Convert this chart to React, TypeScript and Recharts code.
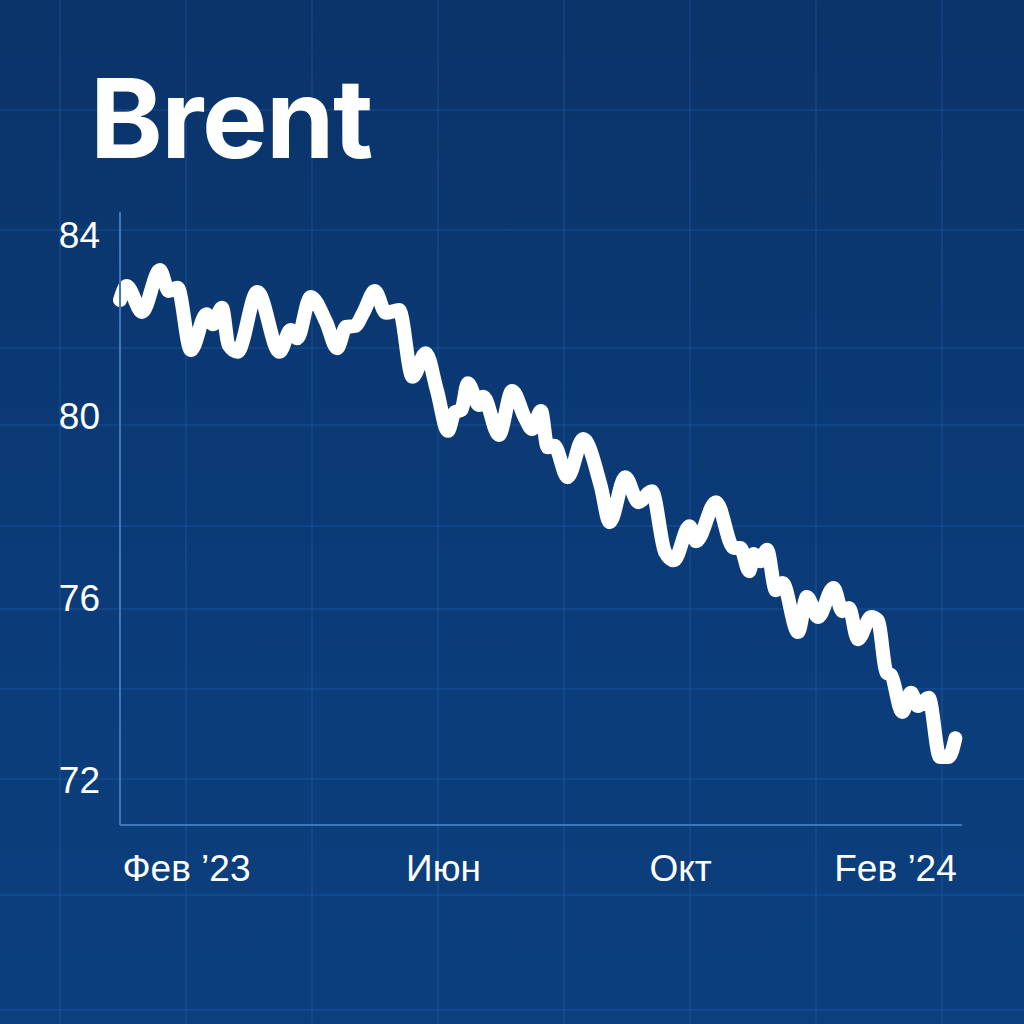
import { LineChart, Line, XAxis, YAxis } from 'recharts';

// Brent price: day offset since start and price in $
const days = [
  0, 3, 10, 18, 22, 26, 32, 39, 42, 46, 49, 53, 62, 72, 77, 80, 86, 93, 98, 102,
  106, 110, 115, 120, 126, 132, 138, 143, 148, 151, 154, 157, 162, 164, 171, 177,
  183, 186, 190, 193, 196, 202, 209, 217, 221, 228, 234, 240, 246, 250, 257, 260,
  269, 277, 280, 284, 286, 289, 292, 296, 299, 306, 310, 315, 322, 326, 329, 333,
  339, 342, 346, 348, 353, 357, 360, 365, 370, 374, 377,
];
const prices = [
  82.56, 82.87, 82.3, 83.22, 82.76, 82.83, 81.46, 82.25, 82.03, 82.39, 81.57, 81.42,
  82.74, 81.42, 81.9, 81.72, 82.63, 82.08, 81.5, 81.97, 81.99, 82.3, 82.76, 82.28,
  82.34, 80.87, 81.39, 80.58, 79.68, 80.09, 80.14, 80.73, 80.25, 80.43, 79.59, 80.56,
  79.94, 79.72, 80.12, 79.32, 79.35, 78.66, 79.5, 78.46, 77.67, 78.66, 78.11, 78.35,
  77.01, 76.83, 77.58, 77.25, 78.11, 77.1, 77.1, 76.59, 76.97, 76.81, 77.06, 76.17,
  76.33, 75.25, 76.02, 75.58, 76.22, 75.71, 75.78, 75.09, 75.58, 75.51, 74.35, 74.3,
  73.49, 73.91, 73.62, 73.8, 72.5, 72.5, 72.91,
];

const yTicks = [72, 76, 80, 84];
const xTickDays = [30, 146, 253, 350];
const xTickLabels = ['Фев ’23', 'Июн', 'Окт', 'Feв ’24'];

const data = days.map((d, i) => ({ day: d, price: prices[i] }));

// decorative background grid
const gridColor = 'rgba(38, 104, 190, 0.24)';
const rowLines = [110, 230, 348, 425, 526, 609, 689, 779, 895, 1010];
const rowGradient = rowLines
  .map(
    (y) =>
      `linear-gradient(to bottom, transparent ${y - 1}px, ${gridColor} ${y - 1}px, ${gridColor} ${y + 1}px, transparent ${y + 1}px)`
  )
  .join(', ');
const colGradient = `repeating-linear-gradient(90deg, transparent 0px, transparent 59px, ${gridColor} 59px, ${gridColor} 61px, transparent 61px, transparent 126px)`;

const axisColor = '#3f77b8';
const tickFont = { fontSize: 37, fill: '#ffffff', fontFamily: '"Liberation Sans", Arial, sans-serif' };

export default function App() {
  return (
    <div
      style={{
        position: 'absolute',
        top: 0,
        left: 0,
        width: 1024,
        height: 1024,
        overflow: 'hidden',
        backgroundColor: '#0b3a75',
        backgroundImage: `${rowGradient}, ${colGradient}, linear-gradient(180deg, #0a3369 0%, #0b3c79 60%, #0c3f7e 100%)`,
      }}
    >
      <div
        style={{
          position: 'absolute',
          left: 90,
          top: 63,
          fontFamily: 'Inter, sans-serif',
          fontWeight: 700,
          fontSize: 110,
          lineHeight: 1,
          letterSpacing: -1.5,
          color: '#ffffff',
        }}
      >
        Brent
      </div>
      <div style={{ position: 'absolute', top: 0, left: 0 }}>
        <LineChart
          width={1024}
          height={1024}
          data={data}
          margin={{ top: 212, right: 62, bottom: 139, left: 0 }}
        >
          <XAxis
            type="number"
            dataKey="day"
            domain={[0, 380]}
            ticks={xTickDays}
            tickFormatter={(v: number) => xTickLabels[xTickDays.indexOf(v)] ?? ''}
            tick={tickFont}
            tickLine={false}
            tickSize={0}
            tickMargin={30}
            axisLine={{ stroke: axisColor, strokeWidth: 2 }}
            height={60}
            interval={0}
          />
          <YAxis
            type="number"
            domain={[71, 84.5]}
            ticks={yTicks}
            tick={tickFont}
            tickLine={false}
            tickSize={0}
            tickMargin={20}
            axisLine={{ stroke: axisColor, strokeWidth: 2 }}
            width={120}
            interval={0}
          />
          <Line
            type="monotone"
            dataKey="price"
            stroke="#ffffff"
            strokeWidth={14}
            strokeLinejoin="round"
            strokeLinecap="round"
            dot={false}
            isAnimationActive={false}
          />
        </LineChart>
      </div>
    </div>
  );
}
